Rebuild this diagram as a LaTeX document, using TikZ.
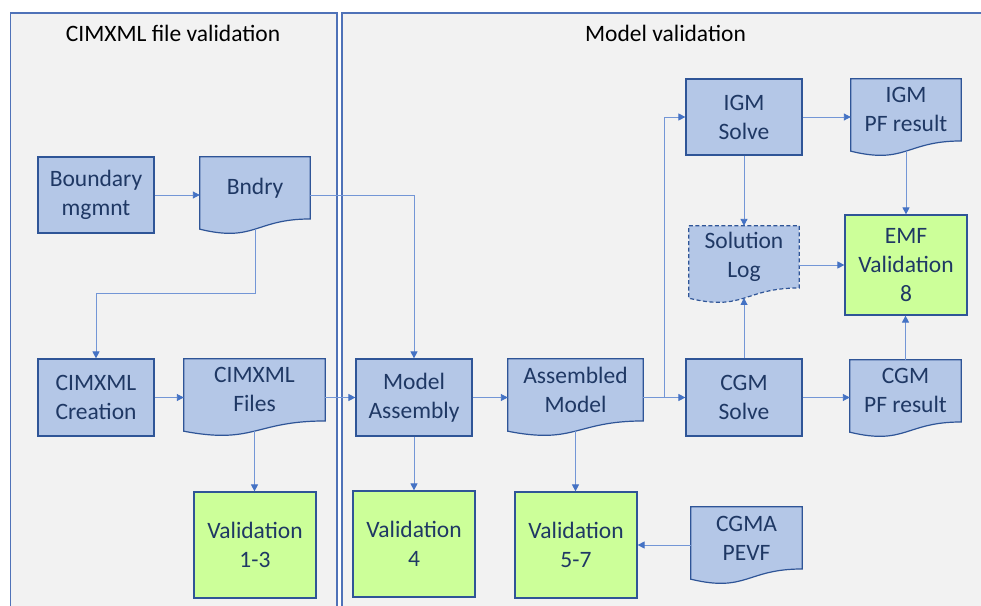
\documentclass[tikz,border=0pt]{standalone}
\usepackage{fontspec}
\setmainfont{Carlito}
\usetikzlibrary{arrows.meta,calc}
\definecolor{panelfill}{HTML}{F2F2F2}
\definecolor{paneldraw}{HTML}{4F72B8}
\definecolor{boxfill}{HTML}{B4C7E7}
\definecolor{boxdraw}{HTML}{2F5597}
\definecolor{greenfill}{HTML}{CCFF99}
\definecolor{txtblue}{HTML}{1F3864}
\definecolor{linecol}{HTML}{7396D6}
\definecolor{tipcol}{HTML}{4472C4}
\pgfdeclarelayer{panels}
\pgfdeclarelayer{docs}
\pgfsetlayers{panels,docs,main}
\tikzset{
  panel/.style={fill=panelfill,draw=paneldraw,line width=1.3bp},
  ptitle/.style={font=\fontsize{23.5bp}{29bp}\selectfont,text=black,inner sep=0pt},
  procbox/.style={draw=boxdraw,fill=boxfill,line width=1.2bp,inner sep=0pt,
    minimum width=116bp,minimum height=76bp,align=center,text=txtblue,
    font=\fontsize{23.5bp}{29bp}\selectfont},
  docbox/.style={inner sep=0pt,minimum height=61.75bp,align=center,text=txtblue,
    font=\fontsize{23.5bp}{29bp}\selectfont},
  docshp/.style={draw=boxdraw,fill=boxfill,line width=1.2bp},
  valbox/.style={draw=boxdraw,fill=greenfill,line width=1.2bp,inner sep=0pt,
    minimum width=122bp,minimum height=106bp,align=center,text=txtblue,
    font=\fontsize{23.5bp}{29bp}\selectfont},
  arr/.style={draw=linecol,line width=0.9bp,-{Triangle[length=7bp,width=7bp,color=tipcol]}},
}
\newcommand\docshape[2][]{%
\begin{pgfonlayer}{docs}
\path[docshp,#1] let \p1=(#2.north west), \p2=(#2.south east), \n1={\y1-\y2} in
 (\p1) -- (\x2,\y1) -- (\p2) .. controls ({(\x1+\x2)/2},\y2) and ({(\x1+\x2)/2},{\y2-0.381*\n1}) .. (\x1,{\y2-0.1646*\n1}) -- cycle;
\end{pgfonlayer}}
\begin{document}
\begin{tikzpicture}[x=1bp,y=-1bp]
\useasboundingbox (0,0) rectangle (981,606);
\clip (0,0) rectangle (981,606);
\begin{pgfonlayer}{panels}
\fill[white] (0,0) rectangle (981,606);
\draw[panel] (10.5,13) rectangle (337,630);
\draw[panel] (342,13) rectangle (1000,630);
\end{pgfonlayer}
\node[ptitle] (t1) at (173,33) {CIMXML file validation};
\node[ptitle] (t2) at (665.5,33) {Model validation};
% process boxes
\node[procbox] (bm) at (96,195) {Boundary\\mgmnt};
\node[procbox,minimum height=77bp] (cre) at (96,397.5) {CIMXML\\Creation};
\node[procbox,minimum height=77bp] (ma) at (414,397.5) {Model\\Assembly};
\node[procbox,minimum height=77bp] (cgm) at (744,397.5) {CGM\\Solve};
\node[procbox] (igm) at (744,117) {IGM\\Solve};
% document boxes
\node[docbox,minimum width=110bp] (bndry) at (255,187.9) {Bndry};
\node[docbox,minimum width=141bp] (files) at (254.5,389.9) {CIMXML\\Files};
\node[docbox,minimum width=135bp] (am) at (575.5,389.9) {Assembled\\Model};
\node[docbox,minimum width=111bp] (cgmpf) at (905.5,390.9) {CGM\\PF result};
\node[docbox,minimum width=110bp] (igmpf) at (906,109.9) {IGM\\PF result};
\node[docbox,minimum width=110bp] (sol) at (744,256.9) {Solution\\Log};
\node[docbox,minimum width=111bp] (cgma) at (746.5,537.9) {CGMA\\PEVF};
\docshape{bndry}
\docshape{files}
\docshape{am}
\docshape{cgmpf}
\docshape{igmpf}
\docshape[dashed,dash pattern=on 4bp off 2.5bp]{sol}
\docshape{cgma}
% validation boxes
\node[valbox,minimum height=100bp] (emf) at (906,265) {EMF\\Validation\\8};
\node[valbox] (v13) at (255,545) {Validation\\1-3};
\node[valbox] (v4) at (414,544) {Validation\\4};
\node[valbox] (v57) at (576,545) {Validation\\5-7};
% connectors
\draw[arr] (bm.east) -- (bm.east -| bndry.west);
\draw[arr] (bndry.east |- bm.east) -| (ma.north);
\draw[arr] ([yshift=-10bp]bndry.south) |- ([yshift=65bp]cre.north) -- (cre.north);
\draw[arr] (cre.east) -- (cre.east -| files.west);
\draw[arr] (files.east |- ma.west) -- (ma.west);
\draw[arr] ([yshift=-10bp]files.south) -- (files.south |- v13.north);
\draw[arr] (ma.east) -- (ma.east -| am.west);
\draw[arr] (ma.south) -- (v4.north);
\draw[arr] (am.east |- cgm.west) -- (cgm.west);
\draw[arr] (am.east |- cgm.west) -- ++(21,0) |- (igm.west);
\draw[arr] ([yshift=-10bp]am.south) -- (am.south |- v57.north);
\draw[arr] (cgma.west |- v57.east) -- (v57.east);
\draw[arr] (igm.east) -- (igm.east -| igmpf.west);
\draw[arr] (igm.south) -- (sol.north);
\draw[arr] (cgm.north) -- ([yshift=-10bp]sol.south);
\draw[arr] (sol.east |- emf.west) -- (emf.west);
\draw[arr] ([yshift=-10bp]igmpf.south) -- (igmpf.south |- emf.north);
\draw[arr] (cgmpf.north) -- (cgmpf.north |- emf.south);
\draw[arr] (cgm.east) -- (cgm.east -| cgmpf.west);
\end{tikzpicture}
\end{document}
